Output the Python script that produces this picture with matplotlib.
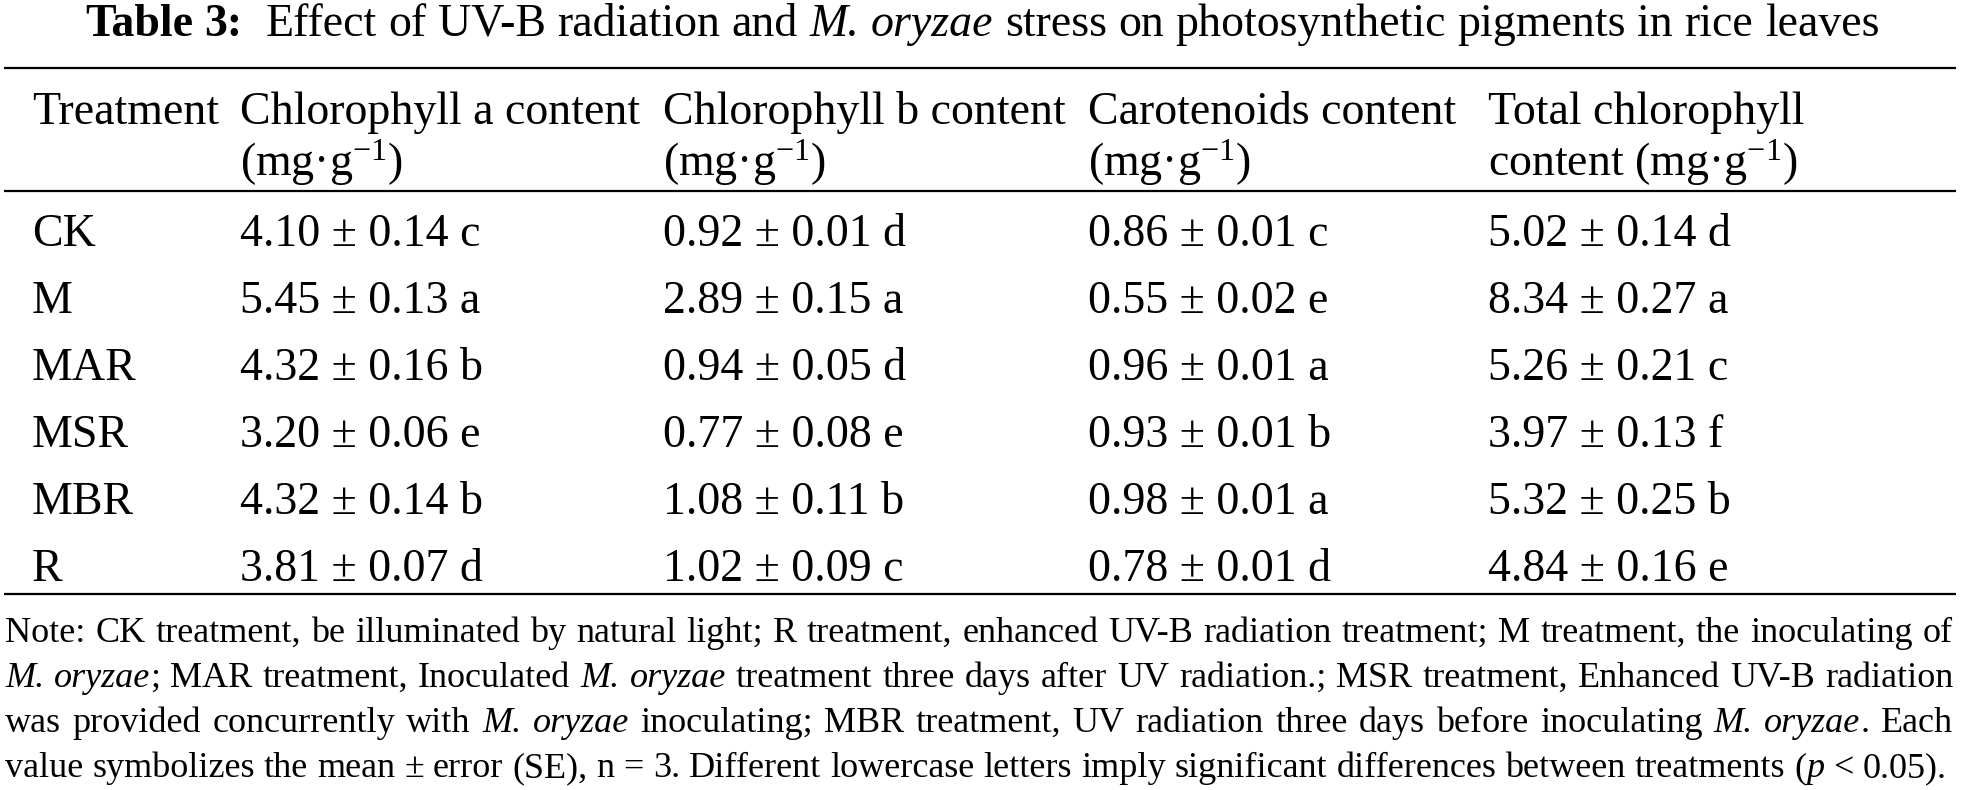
import matplotlib

matplotlib.use("Agg")
import matplotlib.pyplot as plt

plt.rcParams["font.family"] = ["Liberation Serif", "DejaVu Serif"]
plt.rcParams["mathtext.fontset"] = "custom"
plt.rcParams["mathtext.rm"] = "Liberation Serif"
plt.rcParams["mathtext.it"] = "Liberation Serif:italic"
plt.rcParams["mathtext.bf"] = "Liberation Serif:bold"

# table content
treatments = ["CK", "M", "MAR", "MSR", "MBR", "R"]
chl_a = [4.10, 5.45, 4.32, 3.20, 4.32, 3.81]
chl_a_se = [0.14, 0.13, 0.16, 0.06, 0.14, 0.07]
chl_a_sig = ["c", "a", "b", "e", "b", "d"]
chl_b = [0.92, 2.89, 0.94, 0.77, 1.08, 1.02]
chl_b_se = [0.01, 0.15, 0.05, 0.08, 0.11, 0.09]
chl_b_sig = ["d", "a", "d", "e", "b", "c"]
carot = [0.86, 0.55, 0.96, 0.93, 0.98, 0.78]
carot_se = [0.01, 0.02, 0.01, 0.01, 0.01, 0.01]
carot_sig = ["c", "e", "a", "b", "a", "d"]
total_chl = [5.02, 8.34, 5.26, 3.97, 5.32, 4.84]
total_se = [0.14, 0.27, 0.21, 0.13, 0.25, 0.16]
total_sig = ["d", "a", "c", "f", "b", "e"]

unit = r"(mg·g$^{-1}$)"
header_top = ["Treatment", "Chlorophyll a content", "Chlorophyll b content",
              "Carotenoids content", "Total chlorophyll"]
header_bottom = ["", unit, unit, unit, "content " + unit]

title_label = "Table 3:"
title_text = "Effect of UV-B radiation and *M. oryzae* stress on photosynthetic pigments in rice leaves"

note_lines = [
    "Note: CK treatment, be illuminated by natural light; R treatment, enhanced UV-B radiation treatment; M treatment, the inoculating of",
    "*M. oryzae*; MAR treatment, Inoculated *M. oryzae* treatment three days after UV radiation.; MSR treatment, Enhanced UV-B radiation",
    "was provided concurrently with *M. oryzae* inoculating; MBR treatment, UV radiation three days before inoculating *M. oryzae*. Each",
    "value symbolizes the mean ± error (SE), n = 3. Different lowercase letters imply significant differences between treatments (*p* < 0.05).",
]

BODY = 33
NOTE = 26
col_x = [32, 240, 663, 1088, 1488]

fig = plt.figure(figsize=(19.62, 7.9), dpi=100)
ax = fig.add_axes([0, 0, 1, 1])
ax.set_xlim(0, 1962)
ax.set_ylim(790, 0)
ax.axis("off")
renderer = fig.canvas.get_renderer()


def parse(line, style="i", base="n"):
    """Split a line into words; text between * markers gets the given style."""
    words = [[]]
    for k, seg in enumerate(line.split("*")):
        st = style if k % 2 else base
        for j, part in enumerate(seg.split(" ")):
            if j > 0:
                words.append([])
            if part:
                words[-1].append((part, st))
    return [w for w in words if w]


def place_words(words, x0, y, size, width=None):
    items, widths = [], []
    for word in words:
        pieces, w = [], 0.0
        for part, st in word:
            t = ax.text(0, y, part, fontsize=size, va="baseline", ha="left",
                        fontstyle="italic" if st == "i" else "normal",
                        fontweight="bold" if st == "b" else "normal")
            pieces.append((t, w))
            w += t.get_window_extent(renderer).width
        items.append(pieces)
        widths.append(w)
    gap = size * 100 / 72 * 0.25
    if width is not None and len(words) > 1:
        gap = (width - sum(widths)) / (len(words) - 1)
    x = x0
    for pieces, w in zip(items, widths):
        for t, off in pieces:
            t.set_x(x + off)
        x += w + gap
    return x - gap


# title
end = place_words(parse(title_label, base="b"), 85, 36, BODY)
place_words(parse(title_text), end + BODY * 100 / 72 * 0.5, 36, BODY)

# rules
for y in (68, 191, 594):
    ax.plot([4, 1956], [y, y], color="black", lw=1.6, solid_capstyle="butt")

# header
for x, top, bottom in zip(col_x, header_top, header_bottom):
    ax.text(x, 124, top, fontsize=BODY, va="baseline", ha="left")
    if bottom:
        ax.text(x, 176, bottom, fontsize=BODY, va="baseline", ha="left")

# rows
columns = [(chl_a, chl_a_se, chl_a_sig), (chl_b, chl_b_se, chl_b_sig),
           (carot, carot_se, carot_sig), (total_chl, total_se, total_sig)]
for i, name in enumerate(treatments):
    y = 246 + 67 * i
    ax.text(col_x[0], y, name, fontsize=BODY, va="baseline", ha="left")
    for x, (mean, se, sig) in zip(col_x[1:], columns):
        ax.text(x, y, f"{mean[i]:.2f} ± {se[i]:.2f} {sig[i]}",
                fontsize=BODY, va="baseline", ha="left")

# note: justified lines, last line set naturally
for k, line in enumerate(note_lines):
    last = k == len(note_lines) - 1
    place_words(parse(line), 5, 642 + 45 * k, NOTE, width=None if last else 1948)

fig.savefig("out.png", dpi=100)
